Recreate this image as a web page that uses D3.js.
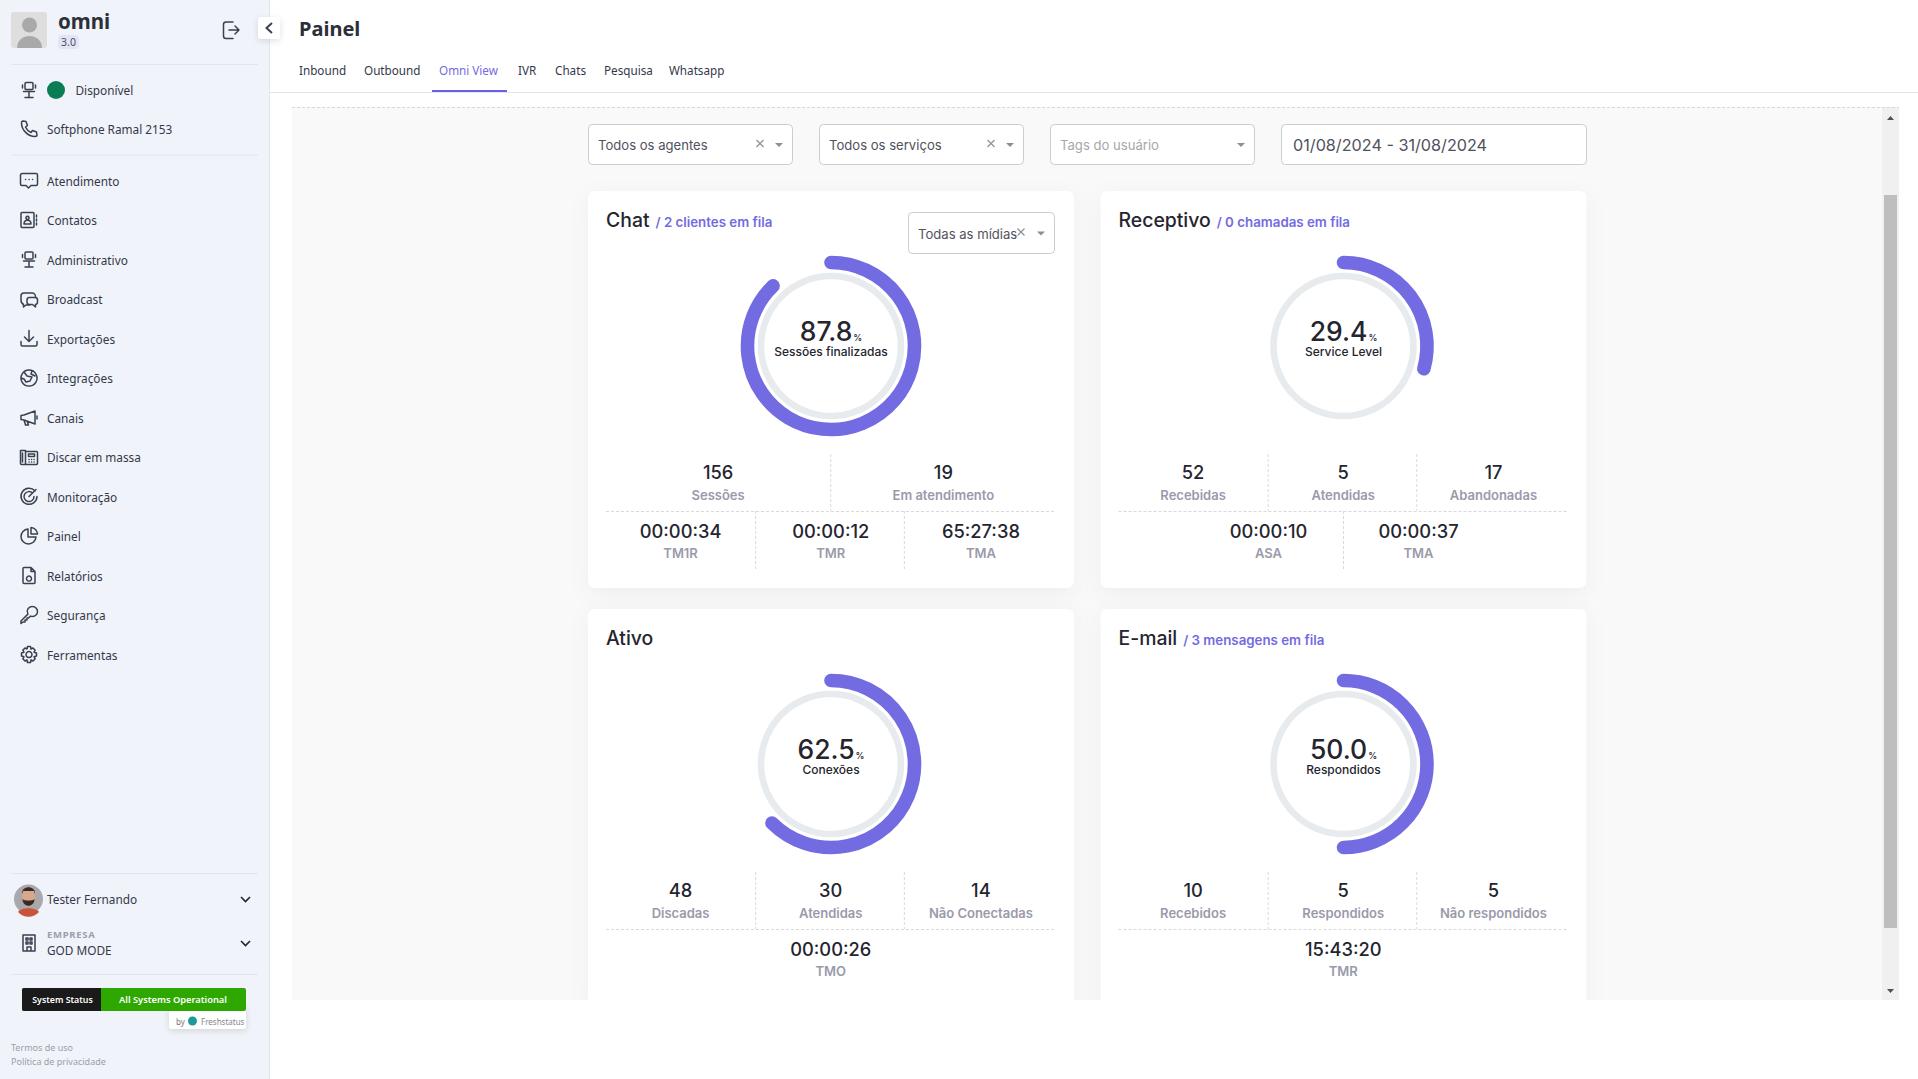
<!DOCTYPE html>
<html lang="pt-BR">
<head>
<meta charset="utf-8">
<title>Painel</title>
<script src="https://cdn.jsdelivr.net/npm/d3@7"></script>
<style>
  html, body { margin: 0; padding: 0; background: #fff; overflow: hidden; }
  svg { display: block; }
  text { font-family: "Noto Sans", sans-serif; }
  .ui text, text.ui { font-family: Inter, sans-serif; }
  .card { filter: drop-shadow(0 6px 10px rgba(40, 40, 70, 0.05)); }
</style>
</head>
<body>
<script>
"use strict";

/***** Data *****/
const menuItems = ["Atendimento", "Contatos", "Administrativo", "Broadcast", "Exportações", "Integrações",
    "Canais", "Discar em massa", "Monitoração", "Painel", "Relatórios", "Segurança", "Ferramentas"];
const menuIcons = ["chat", "contact", "chair", "bubbles", "download", "globe",
    "megaphone", "deskphone", "target", "pie", "file", "key", "gear"];
const tabs = ["Inbound", "Outbound", "Omni View", "IVR", "Chats", "Pesquisa", "Whatsapp"];
const tabStarts = [299, 364, 439, 518, 555, 604, 669];

const cardTitles = ["Chat", "Receptivo", "Ativo", "E-mail"];
const queueNotes = ["/ 2 clientes em fila", "/ 0 chamadas em fila", "", "/ 3 mensagens em fila"];
const rates = [87.8, 29.4, 62.5, 50.0];
const rateLabels = ["Sessões finalizadas", "Service Level", "Conexões", "Respondidos"];
const countValues = [["156", "19"], ["52", "5", "17"], ["48", "30", "14"], ["10", "5", "5"]];
const countLabels = [["Sessões", "Em atendimento"], ["Recebidas", "Atendidas", "Abandonadas"],
    ["Discadas", "Atendidas", "Não Conectadas"], ["Recebidos", "Respondidos", "Não respondidos"]];
const timeValues = [["00:00:34", "00:00:12", "65:27:38"], ["00:00:10", "00:00:37"], ["00:00:26"], ["15:43:20"]];
const timeLabels = [["TM1R", "TMR", "TMA"], ["ASA", "TMA"], ["TMO"], ["TMR"]];

/***** Configuration *****/
const PURPLE = "#736be2";
const DARK = "#25252f";
const MUTED = "#9a9aaa";
const SIDE_TEXT = "#33394a";

const iconPaths = {
    chat: "M3 3h14a1.5 1.5 0 0 1 1.5 1.5v9a1.5 1.5 0 0 1-1.5 1.5h-5l-2.5 2.5L7 15H3a1.5 1.5 0 0 1-1.5-1.5v-9A1.5 1.5 0 0 1 3 3zM6.5 9h.1M10 9h.1M13.500 9h.1",
    contact: "M3 2.500h11a1 1 0 0 1 1 1v13a1 1 0 0 1-1 1H3a1 1 0 0 1-1-1v-13a1 1 0 0 1 1-1zM17.500 5v2M17.500 9v2M17.500 13v2M5 14c0-5 7-5 7 0zM8.500 6.200a1.600 1.600 0 1 0 .01 0z",
    chair: "M7 2.500h6a1 1 0 0 1 1 1v5a1 1 0 0 1-1 1H7a1 1 0 0 1-1-1v-5a1 1 0 0 1 1-1zM3.500 5v3M16.500 5v3M4.500 11.500h11M10 11.500v5M6 17.500h8",
    bubbles: "M5 4h8a3.500 3.500 0 0 1 3.500 3.500v1M11 16H7l-2.500 2v-2.500A5 5 0 0 1 2 11V7a3 3 0 0 1 3-3M10 8.500h6a2.500 2.500 0 0 1 2.500 2.500v2a2.500 2.500 0 0 1-2 2.500V18l-3-2.500H10A2.500 2.500 0 0 1 8 13v-2a2.500 2.500 0 0 1 2-2.500z",
    download: "M10 2v10.500M5.500 8.500l4.500 4.500 4.500-4.500M2 13v3a1.500 1.500 0 0 0 1.500 1.500h13A1.500 1.500 0 0 0 18 16v-3",
    globe: "M10 2a8 8 0 1 0 .01 0zM5 4l3 4 5 1-2 4-4 1 -2-3-3-1M13 3l-1 3 4 2",
    megaphone: "M2 8v4l3 .5 11 4V3.500l-11 4zM5 12.500l1.500 5h3l-1.500-4M18 8.500v3",
    deskphone: "M1.500 3.500h5v14h-4a1 1 0 0 1-1-1zM6.500 4.500h11a1 1 0 0 1 1 1v11a1 1 0 0 1-1 1h-11M9.500 7h6v2.500h-6zM3.500 6v9M10 12.500h.1M12.500 12.500h.1M15 12.500h.1M10 15h.1M12.500 15h.1M15 15h.1",
    target: "M16 4.500A8 8 0 1 0 18 10M13.500 6.500A5 5 0 1 0 15 10M10 10L17 3",
    pie: "M9 3a7.500 7.500 0 1 0 8 8h-8zM12 1.500a7 7 0 0 1 6.500 6.500H12z",
    file: "M5 2h7l4 4v11a1 1 0 0 1-1 1H5a1 1 0 0 1-1-1V3a1 1 0 0 1 1-1zM12 2v4h4M10 10.500a2.500 2.500 0 1 0 .01 0z",
    key: "M13.500 1.500a5 5 0 0 1 0 10c-.8 0-1.500-.2-2-.4L9.500 13H8v2H6v2H4l-2 1.500V16l6.900-6.900a5 5 0 0 1 4.600-7.600z",
    gear: "M10 7a3 3 0 1 0 .01 0zM8.500 2h3l.5 2.500 2-1 2.200 2.200-1.200 2 2.500.8v3l-2.500.8 1.200 2-2.200 2.200-2-1.200-.5 2.700h-3l-.5-2.700-2 1.200-2.200-2.200 1.200-2-2.500-.8v-3l2.500-.8-1.200-2L6 3.500l2 1z",
    phone: "M4 2l3 .5 1.500 4-2 1.500a10 10 0 0 0 5.500 5.500l1.500-2 4 1.500.500 3c0 1-1 1.500-2 1.500C9 17.500 2.500 11 2.500 4c0-1 .5-2 1.500-2z",
    building: "M4 2h12v16H4zM7 5h2v2H7zM11 5h2v2h-2zM7 9h2v2H7zM11 9h2v2h-2zM8 18v-4h4v4"
};

const svg = d3.select("body").append("svg")
    .attr("width", 1918)
    .attr("height", 1079);

const defs = svg.append("defs");
const softShadow = defs.append("filter").attr("id", "soft")
    .attr("x", "-30%").attr("y", "-30%").attr("width", "160%").attr("height", "170%");
softShadow.append("feDropShadow").attr("dx", 0).attr("dy", 2).attr("stdDeviation", 3)
    .attr("flood-color", "#000").attr("flood-opacity", 0.12);

function icon(g, name, cx, cy, size = 20, color = "#3a404e") {
    g.append("path")
        .attr("d", iconPaths[name])
        .attr("transform", `translate(${cx - size / 2},${cy - size / 2}) scale(${size / 20})`)
        .attr("fill", "none")
        .attr("stroke", color)
        .attr("stroke-width", 1.5)
        .attr("stroke-linecap", "round")
        .attr("stroke-linejoin", "round");
}

function label(g, str, x, y, opts = {}) {
    return g.append("text")
        .attr("x", x)
        .attr("y", y)
        .attr("fill", opts.fill || SIDE_TEXT)
        .attr("font-size", opts.size || 11.8)
        .attr("font-weight", opts.weight || 400)
        .attr("text-anchor", opts.anchor || "start")
        .attr("letter-spacing", opts.spacing || null)
        .text(str);
}

/***** Sidebar *****/
const side = svg.append("g");
side.append("rect").attr("width", 269.5).attr("height", 1079).attr("fill", "#f0f3f9");
side.append("line").attr("x1", 269.5).attr("x2", 269.5).attr("y2", 1079).attr("stroke", "#e3e6ef");

side.append("rect").attr("x", 11).attr("y", 12).attr("width", 36).attr("height", 36).attr("rx", 3).attr("fill", "#dedede");
side.append("circle").attr("cx", 29.5).attr("cy", 25).attr("r", 7.500).attr("fill", "#a9a9a9");
side.append("path").attr("d", "M17 48c0-16 25-16 25 0z").attr("fill", "#a9a9a9");
label(side, "omni", 58, 29, { size: 20.5, weight: 700, fill: "#2b2f3a" });
side.append("rect").attr("x", 58).attr("y", 35).attr("width", 21).attr("height", 14).attr("rx", 4).attr("fill", "#e3e5f7");
label(side, "3.0", 68.5, 46, { size: 10.5, anchor: "middle", fill: "#4a4f5c" });
side.append("path")
    .attr("d", "M233 22h-7a2.500 2.500 0 0 0-2.500 2.500v11.500a2.500 2.500 0 0 0 2.500 2.500h7M229 30h10M235 26l4 4-4 4")
    .attr("fill", "none").attr("stroke", "#3a404e").attr("stroke-width", 1.5)
    .attr("stroke-linecap", "round").attr("stroke-linejoin", "round");

[64.5, 155].forEach(y => side.append("line")
    .attr("x1", 11).attr("x2", 258).attr("y1", y).attr("y2", y).attr("stroke", "#e0e5ee"));

icon(side, "chair", 29, 90);
side.append("circle").attr("cx", 56).attr("cy", 90).attr("r", 9).attr("fill", "#0b7d55");
label(side, "Disponível", 75.5, 94.5);
icon(side, "phone", 29, 129);
label(side, "Softphone Ramal 2153", 47, 133.5);

const menuY = d3.scalePoint().domain(menuItems).range([181.5, 655.5]);
menuItems.forEach((name, i) => {
    icon(side, menuIcons[i], 29, menuY(name) - 1);
    label(side, name, 47, menuY(name) + 4);
});

[873.5, 974.5].forEach(y => side.append("line")
    .attr("x1", 11).attr("x2", 258).attr("y1", y).attr("y2", y).attr("stroke", "#e0e5ee"));

const avatar = side.append("g");
avatar.append("circle").attr("cx", 28.5).attr("cy", 899).attr("r", 14.5).attr("fill", "#a9a9ad");
avatar.append("path").attr("d", "M18 912c3-5 18-5 21 0a14 14 0 0 1-21 0z").attr("fill", "#c8543a");
avatar.append("ellipse").attr("cx", 28.5).attr("cy", 897).attr("rx", 6.500).attr("ry", 8).attr("fill", "#d9a88c");
avatar.append("path").attr("d", "M22 894c-1-9 14-9 13 0l-1-3h-11zM22.500 899c2 2 10 2 12 0c0 9-12 9-12 0z").attr("fill", "#3b2a24");
label(side, "Tester Fernando", 47, 903.5);
label(side, "EMPRESA", 47, 938, { size: 9.5, weight: 700, fill: "#9aa0ac", spacing: "0.7px" });
icon(side, "building", 29, 943);
label(side, "GOD MODE", 47, 954.5);
[899, 943].forEach(y => side.append("path")
    .attr("d", `M241 ${y - 2}l4.500 4.500 4.500-4.500`)
    .attr("fill", "none").attr("stroke", "#1f2430").attr("stroke-width", 1.6));

side.append("rect").attr("x", 169).attr("y", 1005).attr("width", 77).attr("height", 24).attr("rx", 3).attr("fill", "#fff").attr("filter", "url(#soft)");
side.append("rect").attr("x", 22).attr("y", 988).attr("width", 224).attr("height", 23).attr("rx", 2).attr("fill", "#2ea800");
side.append("path").attr("d", "M24 988h77v23H24a2 2 0 0 1-2-2v-19a2 2 0 0 1 2-2z").attr("fill", "#1a1a1a");
label(side, "System Status", 62.5, 1003, { size: 8.8, weight: 600, anchor: "middle", fill: "#fff" });
label(side, "All Systems Operational", 173, 1003, { size: 9.3, weight: 600, anchor: "middle", fill: "#fff" });
label(side, "by", 176, 1024.5, { size: 8, fill: "#777" });
side.append("circle").attr("cx", 192.5).attr("cy", 1021).attr("r", 4.500).attr("fill", "#1d9a9a");
label(side, "Freshstatus", 201, 1024.5, { size: 8, fill: "#888" });
label(side, "Termos de uso", 11, 1051, { size: 9, fill: "#9a9fa8" });
label(side, "Política de privacidade", 11, 1065, { size: 9, fill: "#9a9fa8" });

/***** Header *****/
const head = svg.append("g");
head.append("rect").attr("x", 258).attr("y", 17).attr("width", 22).attr("height", 22).attr("rx", 3).attr("fill", "#fff").attr("filter", "url(#soft)");
head.append("path").attr("d", "M272 23l-5.500 5 5.500 5").attr("fill", "none").attr("stroke", "#3a404e").attr("stroke-width", 2);
label(head, "Painel", 299, 36, { size: 20, weight: 700, fill: "#2b2f3a" });
tabs.forEach((t, i) => label(head, t, tabStarts[i], 75, { size: 11.7, fill: t === "Omni View" ? PURPLE : SIDE_TEXT }));
head.append("line").attr("x1", 270).attr("x2", 1918).attr("y1", 92.5).attr("y2", 92.5).attr("stroke", "#e1e5f0");
head.append("rect").attr("x", 432).attr("y", 90).attr("width", 75).attr("height", 2).attr("fill", "#6a60e0");

/***** Content panel *****/
const panel = svg.append("g").attr("class", "ui");
panel.append("rect").attr("x", 292).attr("y", 107).attr("width", 1607).attr("height", 893).attr("fill", "#f9f9f9");
panel.append("rect").attr("x", 1882).attr("y", 107).attr("width", 17).attr("height", 893).attr("fill", "#f0f0f0");
panel.append("line").attr("x1", 292).attr("x2", 1899).attr("y1", 107.5).attr("y2", 107.5)
    .attr("stroke", "#d8d8d8").attr("stroke-dasharray", "3 2");
panel.append("rect").attr("x", 1884).attr("y", 195).attr("width", 13).attr("height", 733).attr("fill", "#bebebe");
panel.append("path").attr("d", "M1887 120l3.500-4 3.500 4z").attr("fill", "#505050");
panel.append("path").attr("d", "M1887 989l3.500 4 3.500-4z").attr("fill", "#505050");

function select(g, x, y, w, h, text, opts = {}) {
    g.append("rect").attr("x", x + 0.5).attr("y", y + 0.5).attr("width", w - 1).attr("height", h - 1)
        .attr("rx", 4).attr("fill", "#fff").attr("stroke", "#cbccd1");
    label(g, text, x + (opts.pad || 10), y + h / 2 + (opts.drop || 5.5), { size: opts.size || 13.1, fill: opts.fill || "#50525c" });
    if (opts.clear) {
        const cx = x + w - opts.clear, cy = y + h / 2 - 1;
        g.append("path").attr("d", `M${cx - 3.500} ${cy - 3.500}l7 7M${cx + 3.500} ${cy - 3.500}l-7 7`)
            .attr("stroke", "#8d8d93").attr("stroke-width", 1.1);
    }
    if (opts.caret !== false) {
        const cx = x + w - 14, cy = y + h / 2;
        g.append("path").attr("d", `M${cx - 4} ${cy - 1.500}h8l-4 4z`).attr("fill", "#8d8d93");
    }
}
select(panel, 588, 124, 205, 41, "Todos os agentes", { clear: 33 });
select(panel, 819, 124, 205, 41, "Todos os serviços", { clear: 33 });
select(panel, 1050, 124, 205, 41, "Tags do usuário", { fill: "#a6a7ad" });
select(panel, 1281, 124, 306, 41, "01/08/2024 - 31/08/2024", { caret: false, size: 16.2, pad: 12, drop: 6.5 });

/***** Cards *****/
const colX = d3.scaleOrdinal().domain([0, 1]).range([588, 1100.5]);
const rowY = d3.scaleOrdinal().domain([0, 1]).range([191, 609]);
const CARD_W = 486, CARD_H = 397;
const RING_R = 83.5;
const angle = d3.scaleLinear().domain([0, 100]).range([0, 2 * Math.PI]);
const trackArc = d3.arc().innerRadius(66.7).outerRadius(73.3).startAngle(0).endAngle(2 * Math.PI);

// d3.arc ferme le tracé, il faut un chemin ouvert pour les bouts arrondis
function progressPath(rate) {
    const path = d3.path();
    path.arc(0, 0, RING_R, -Math.PI / 2, angle(rate) - Math.PI / 2);
    return path.toString();
}

function divider(card, x, y1, y2) {
    card.append("line").attr("x1", x).attr("x2", x).attr("y1", y1).attr("y2", y2)
        .attr("stroke", "#d9d9dd").attr("stroke-dasharray", "3 2");
}

cardTitles.forEach((title, i) => {
    const x0 = colX(i % 2), y0 = rowY(Math.floor(i / 2));
    const card = panel.append("g").attr("transform", `translate(${x0},${y0})`);
    card.append("rect").attr("class", "card").attr("width", CARD_W).attr("height", CARD_H).attr("rx", 7).attr("fill", "#fff");

    const titleText = label(card, title, 18, 36, { size: 19.4, weight: 500, fill: DARK });
    const titleEnd = 18 + titleText.node().getComputedTextLength();
    if (queueNotes[i]) {
        label(card, queueNotes[i], titleEnd + 6, 36, { size: 13.3, weight: 600, fill: PURPLE });
    }

    // Anneau de progression
    const ring = card.append("g").attr("transform", `translate(243,155)`);
    ring.append("path").attr("d", trackArc()).attr("fill", "#e8ebee");
    ring.append("path")
        .attr("d", progressPath(rates[i]))
        .attr("fill", "none")
        .attr("stroke", PURPLE)
        .attr("stroke-width", 13.6)
        .attr("stroke-linecap", "round");
    const value = ring.append("text").attr("text-anchor", "middle").attr("y", -5)
        .attr("fill", DARK).attr("font-size", 26.5).attr("font-weight", 500);
    value.append("tspan").text(rates[i].toFixed(1));
    value.append("tspan").attr("font-size", 9).attr("dx", 1).text("%");
    label(ring, rateLabels[i], 0, 10, { size: 12, weight: 500, anchor: "middle", fill: DARK });

    // Rangées de statistiques
    const counts = d3.scaleBand().domain(d3.range(countValues[i].length)).range([17.5, 468]);
    countValues[i].forEach((v, j) => {
        const cx = counts(j) + counts.bandwidth() / 2;
        label(card, v, cx, 288, { size: 18.3, weight: 500, anchor: "middle", fill: DARK });
        label(card, countLabels[i][j], cx, 308.5, { size: 13, weight: 600, anchor: "middle", fill: MUTED });
        if (j > 0) divider(card, counts(j) - (j - 1) * 1.5, 263, 320);
    });
    card.append("line").attr("x1", 18).attr("x2", 468).attr("y1", 320.5).attr("y2", 320.5)
        .attr("stroke", "#d9d9dd").attr("stroke-dasharray", "3 2");
    // Une rangée de deux colonnes reste resserrée autour du centre
    const timeRange = timeValues[i].length === 2 ? [93, 393] : [17.5, 468];
    const times = d3.scaleBand().domain(d3.range(timeValues[i].length)).range(timeRange);
    timeValues[i].forEach((v, j) => {
        const cx = times(j) + times.bandwidth() / 2;
        label(card, v, cx, 346.5, { size: 18.3, weight: 500, anchor: "middle", fill: DARK });
        label(card, timeLabels[i][j], cx, 367, { size: 13, weight: 600, anchor: "middle", fill: MUTED });
        if (j > 0) divider(card, times(j) - (j - 1) * 1.5, 320, 379);
    });

    if (i === 0) {
        select(card, 320, 21, 147, 42, "Todas as mídias", { clear: 34 });
    }
});

// Le panneau défile : on masque ce qui dépasse en bas
svg.append("rect").attr("x", 271).attr("y", 1000).attr("width", 1647).attr("height", 79).attr("fill", "#fff");
</script>
</body>
</html>
